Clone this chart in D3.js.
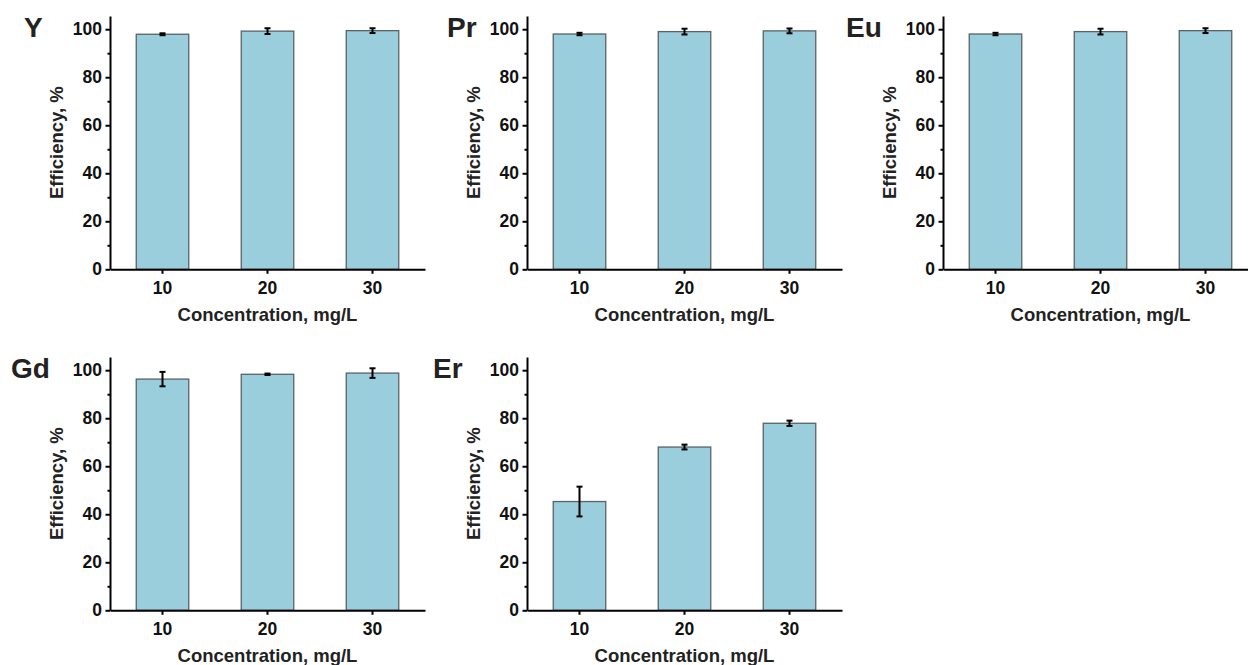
<!DOCTYPE html>
<html>
<head>
  <title>Efficiency vs Concentration</title>
  <script src="https://d3js.org/d3.v7.min.js"></script>
  <style>
    body { margin: 0; background: #fff; }
    svg { display: block; font-family: "Liberation Sans", Arial, sans-serif; font-weight: bold; }
    .bar { fill: #9acedd; stroke: #5a6266; stroke-width: 1.3px; }
    .err { stroke: #000; stroke-width: 2px; fill: none; }
    .axis path, .axis line { stroke: #000; stroke-width: 2px; }
    .axis text { font-size: 17.5px; font-weight: bold; fill: #111; font-family: "Liberation Sans", Arial, sans-serif; }
    .title { font-size: 18.5px; fill: #222; }
    .label { font-size: 28px; fill: #222; }
  </style>
</head>
<body>
  <svg id="chart" width="1248" height="665"></svg>

  <script>
    // Data
    const categories = ["10", "20", "30"];
    const elements = ["Y", "Pr", "Eu", "Gd", "Er"];
    const yValues = [97.9, 99.2, 99.4];
    const yErrors = [0.4, 1.2, 1.0];
    const prValues = [98.0, 99.0, 99.3];
    const prErrors = [0.5, 1.2, 1.0];
    const euValues = [98.0, 99.0, 99.4];
    const euErrors = [0.5, 1.2, 1.0];
    const gdValues = [96.3, 98.3, 98.8];
    const gdErrors = [3.0, 0.3, 2.0];
    const erValues = [45.3, 68.0, 77.9];
    const erErrors = [6.2, 1.0, 1.1];
    const yTicks = [0, 20, 40, 60, 80, 100];
    const yMinorTicks = [10, 30, 50, 70, 90];

    const series = [
      { name: elements[0], values: yValues, errors: yErrors },
      { name: elements[1], values: prValues, errors: prErrors },
      { name: elements[2], values: euValues, errors: euErrors },
      { name: elements[3], values: gdValues, errors: gdErrors },
      { name: elements[4], values: erValues, errors: erErrors }
    ];

    // Panel layout (origin = top of y axis)
    const panels = [
      { x: 110, y: 16, labelX: 24 },
      { x: 527, y: 16, labelX: 447 },
      { x: 943, y: 16, labelX: 846 },
      { x: 110, y: 357, labelX: 11 },
      { x: 527, y: 357, labelX: 433 }
    ];

    const width = 315;
    const height = 253.3;

    const svg = d3.select("#chart");

    const xScale = d3.scaleBand()
      .domain(categories)
      .range([0, width])
      .paddingInner(0.5)
      .paddingOuter(0.25);

    const yScale = d3.scaleLinear()
      .domain([0, 105.5])
      .range([height, 0]);

    series.forEach((s, i) => {
      const p = panels[i];
      const g = svg.append("g").attr("transform", `translate(${p.x},${p.y})`);
      const rows = categories.map((c, j) => ({ cat: c, value: s.values[j], err: s.errors[j] }));

      // bars
      g.selectAll("rect.bar")
        .data(rows)
        .enter()
        .append("rect")
        .attr("class", "bar")
        .attr("x", d => xScale(d.cat))
        .attr("y", d => yScale(d.value))
        .attr("width", xScale.bandwidth())
        .attr("height", d => height - yScale(d.value));

      // error bars
      const cx = d => xScale(d.cat) + xScale.bandwidth() / 2;
      const eb = g.selectAll("g.eb").data(rows).enter().append("g").attr("class", "eb");
      eb.append("line").attr("class", "err")
        .attr("x1", cx).attr("x2", cx)
        .attr("y1", d => yScale(d.value + d.err))
        .attr("y2", d => yScale(d.value - d.err));
      eb.append("line").attr("class", "err")
        .attr("x1", d => cx(d) - 3).attr("x2", d => cx(d) + 3)
        .attr("y1", d => yScale(d.value + d.err))
        .attr("y2", d => yScale(d.value + d.err));
      eb.append("line").attr("class", "err")
        .attr("x1", d => cx(d) - 3).attr("x2", d => cx(d) + 3)
        .attr("y1", d => yScale(d.value - d.err))
        .attr("y2", d => yScale(d.value - d.err));

      // minor y ticks
      g.append("g")
        .attr("class", "axis")
        .call(d3.axisLeft(yScale).tickValues(yMinorTicks).tickSize(2.5).tickFormat(""))
        .select(".domain").remove();

      // y axis
      g.append("g")
        .attr("class", "axis")
        .call(d3.axisLeft(yScale).tickValues(yTicks).tickSize(4.5).tickSizeOuter(0).tickPadding(3.5));

      // x axis
      g.append("g")
        .attr("class", "axis")
        .attr("transform", `translate(0,${height})`)
        .call(d3.axisBottom(xScale).tickSize(4.5).tickSizeOuter(0).tickPadding(8));

      // axis titles
      g.append("text")
        .attr("class", "title")
        .attr("x", width / 2)
        .attr("y", height + 52)
        .attr("text-anchor", "middle")
        .text("Concentration, mg/L");

      g.append("text")
        .attr("class", "title")
        .attr("transform", `translate(-47,${height / 2}) rotate(-90)`)
        .attr("text-anchor", "middle")
        .text("Efficiency, %");

      // panel label
      svg.append("text")
        .attr("class", "label")
        .attr("x", p.labelX)
        .attr("y", p.y + 21)
        .text(s.name);
    });
  </script>
</body>
</html>
